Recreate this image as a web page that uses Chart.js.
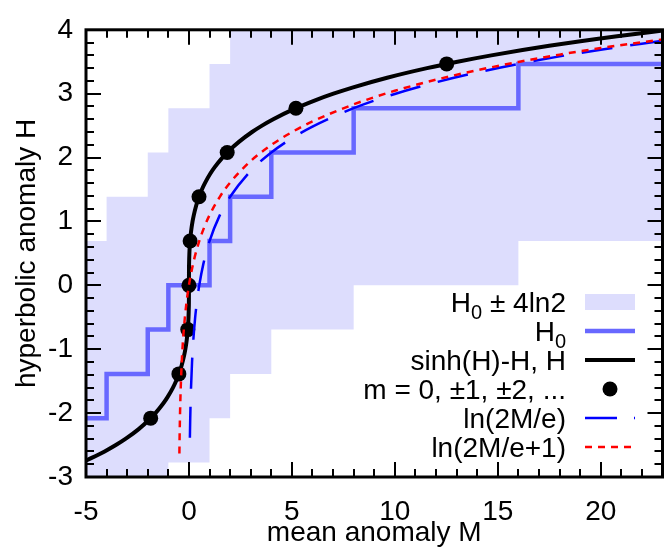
<!DOCTYPE html>
<html>
<head>
<meta charset="utf-8">
<script src="https://cdn.jsdelivr.net/npm/chart.js@4"></script>
<style>
  html, body { margin: 0; padding: 0; background: #fff; }
  canvas { display: block; }
</style>
</head>
<body>
<canvas id="anomaly_chart" width="670" height="551"></canvas>
<script>
"use strict";

// H0 is held constant on [stepM[i], stepM[i+1]]
const stepM = [-5, -4, -2, -1, 1, 2, 4, 8, 16, 23];
const stepH0 = [-2.079, -1.386, -0.693, 0, 0.693, 1.386, 2.079, 2.773, 3.466, 3.466];
const bandUpper = [0.693, 1.386, 2.079, 2.773, 3.466, 4.159, 4.852, 5.545, 6.238, 6.238];
const bandLower = [-4.852, -4.159, -3.466, -2.773, -2.079, -1.386, -0.693, 0, 0.693, 0.693];

// sinh(H)-H curve
const curveM = [-5.04, -4.095, -3.55, -3.066, -2.441, -1.922, -1.627, -1.251, -1.04, -0.776,
  -0.629, -0.449, -0.352, -0.236, -0.175, -0.106, -0.072, -0.037, -0.021, -0.0072, -0.0013,
  0, 0.0013, 0.0072, 0.021, 0.037, 0.072, 0.106, 0.175, 0.236, 0.352, 0.449, 0.629, 0.776,
  1.04, 1.251, 1.627, 1.922, 2.441, 3.066, 3.55, 4.095, 5.04, 6.16, 7.018, 7.976, 9.626,
  11.565, 13.043, 14.685, 17.499, 20.791, 23.29];
const curveH = [-2.75, -2.6, -2.5, -2.4, -2.25, -2.1, -2.0, -1.85, -1.75, -1.6,
  -1.5, -1.35, -1.25, -1.1, -1.0, -0.85, -0.75, -0.6, -0.5, -0.35, -0.2,
  0, 0.2, 0.35, 0.5, 0.6, 0.75, 0.85, 1.0, 1.1, 1.25, 1.35, 1.5, 1.6,
  1.75, 1.85, 2.0, 2.1, 2.25, 2.4, 2.5, 2.6, 2.75, 2.9, 3.0, 3.1, 3.25,
  3.4, 3.5, 3.6, 3.75, 3.9, 4.0];

// m = 0, ±1, ±2, ...
const markerM = [-1.858, -0.489, -0.057, 0, 0.057, 0.489, 1.858, 5.196, 12.518];
const markerH = [-2.079, -1.386, -0.693, 0, 0.693, 1.386, 2.079, 2.773, 3.466];

// ln(2M/e)
const blueM = [0.046, 0.06, 0.08, 0.1, 0.15, 0.2, 0.3, 0.4, 0.5, 0.7, 1, 1.5, 2, 3, 4, 5,
  6, 8, 10, 12, 14, 16, 18, 20, 23];
const blueH = [-2.386, -2.12, -1.833, -1.609, -1.204, -0.916, -0.511, -0.223, 0, 0.336,
  0.693, 1.099, 1.386, 1.792, 2.079, 2.303, 2.485, 2.773, 2.996, 3.178, 3.332, 3.466,
  3.584, 3.689, 3.829];

// ln(2M/e+1)
const redM = [-0.464, -0.45, -0.43, -0.4, -0.35, -0.3, -0.2, -0.1, 0, 0.1, 0.25, 0.5,
  0.75, 1, 1.5, 2, 3, 4, 5, 6, 8, 10, 12, 14, 16, 18, 20, 23];
const redH = [-2.631, -2.303, -1.966, -1.609, -1.204, -0.916, -0.511, -0.223, 0, 0.182,
  0.405, 0.693, 0.916, 1.099, 1.386, 1.609, 1.946, 2.197, 2.398, 2.565, 2.833, 3.045,
  3.219, 3.367, 3.497, 3.611, 3.714, 3.85];

const xTickLabels = [-5, 0, 5, 10, 15, 20];
const legendLabels = ["H_0 ± 4ln2", "H_0", "sinh(H)-H, H", "m = 0, ±1, ±2, ...",
  "ln(2M/e)", "ln(2M/e+1)"];

const FONT = "'Liberation Sans', Arial, sans-serif";
const BAND_COLOR = "rgb(221,221,253)";
const STEP_COLOR = "rgb(104,104,255)";

function toPoints(xs, ys) {
  return xs.map((x, i) => ({ x: x, y: ys[i] }));
}

const frameTicks = {
  id: "frameTicks",
  afterDatasetsDraw(chart) {
    const { ctx, chartArea: a, scales: { x, y } } = chart;
    ctx.save();
    ctx.strokeStyle = "#000";
    ctx.lineWidth = 2;
    ctx.beginPath();
    for (let v = -5; v <= 23; v++) {
      const px = Math.round(x.getPixelForValue(v));
      const len = v % 5 === 0 ? 15 : 8;
      ctx.moveTo(px, a.bottom);
      ctx.lineTo(px, a.bottom - len);
      ctx.moveTo(px, a.top);
      ctx.lineTo(px, a.top + len);
    }
    for (let k = -15; k <= 20; k++) {
      const py = Math.round(y.getPixelForValue(k / 5));
      const len = k % 5 === 0 ? 15 : 8;
      ctx.moveTo(a.left, py);
      ctx.lineTo(a.left + len, py);
      ctx.moveTo(a.right, py);
      ctx.lineTo(a.right - len, py);
    }
    ctx.stroke();
    ctx.lineWidth = 3;
    ctx.strokeRect(a.left, a.top, a.right - a.left, a.bottom - a.top);
    ctx.restore();
  }
};

function drawLabel(ctx, text, right, baseline) {
  const parts = text.split("_");
  const pieces = [{ t: parts[0], sub: false }];
  for (let i = 1; i < parts.length; i++) {
    pieces.push({ t: parts[i].charAt(0), sub: true });
    pieces.push({ t: parts[i].slice(1), sub: false });
  }
  const big = "28px " + FONT;
  const small = "20px " + FONT;
  let total = 0;
  pieces.forEach((p) => {
    ctx.font = p.sub ? small : big;
    p.w = ctx.measureText(p.t).width;
    total += p.w;
  });
  let x = right - total;
  pieces.forEach((p) => {
    ctx.font = p.sub ? small : big;
    ctx.fillText(p.t, x, p.sub ? baseline + 7 : baseline);
    x += p.w;
  });
}

const keyLegend = {
  id: "keyLegend",
  afterDraw(chart) {
    const ctx = chart.ctx;
    const textRight = 566;
    const x0 = 585;
    const x1 = 635;
    ctx.save();
    ctx.fillStyle = "#000";
    ctx.textAlign = "left";
    ctx.textBaseline = "alphabetic";
    legendLabels.forEach((label, i) => {
      const cy = 302 + i * 29;
      drawLabel(ctx, label, textRight, cy + 10);
      ctx.setLineDash([]);
      if (i === 0) {
        ctx.fillStyle = BAND_COLOR;
        ctx.fillRect(x0, cy - 8, x1 - x0, 16);
        ctx.fillStyle = "#000";
        return;
      }
      if (i === 3) {
        ctx.beginPath();
        ctx.arc((x0 + x1) / 2, cy, 7.5, 0, Math.PI * 2);
        ctx.fill();
        return;
      }
      const styles = {
        1: { c: STEP_COLOR, w: 4.5, d: [] },
        2: { c: "#000", w: 4, d: [] },
        4: { c: "#0000ff", w: 2.5, d: [32, 17] },
        5: { c: "#ff0000", w: 2.5, d: [7, 6] }
      };
      const s = styles[i];
      ctx.strokeStyle = s.c;
      ctx.lineWidth = s.w;
      ctx.setLineDash(s.d);
      ctx.beginPath();
      ctx.moveTo(x0, cy);
      ctx.lineTo(x1, cy);
      ctx.stroke();
    });
    ctx.restore();
  }
};

Chart.defaults.font.family = FONT;
Chart.defaults.font.size = 28;
Chart.defaults.color = "#000";

const anomalyChartContext = document.getElementById("anomaly_chart").getContext("2d");

const anomalyChart = new Chart(anomalyChartContext, {
  type: "line",
  data: {
    datasets: [
      {
        label: "ln(2M/e+1)",
        data: toPoints(redM, redH),
        borderColor: "#ff0000",
        borderWidth: 2.5,
        borderDash: [7, 6],
        pointRadius: 0,
        cubicInterpolationMode: "monotone",
        order: 0
      },
      {
        label: "ln(2M/e)",
        data: toPoints(blueM, blueH),
        borderColor: "#0000ff",
        borderWidth: 2.5,
        borderDash: [31, 18],
        pointRadius: 0,
        cubicInterpolationMode: "monotone",
        order: 1
      },
      {
        label: "m = 0, ±1, ±2, ...",
        data: toPoints(markerM, markerH),
        showLine: false,
        pointRadius: 7.5,
        pointBackgroundColor: "#000",
        pointBorderWidth: 0,
        order: 2
      },
      {
        label: "sinh(H)-H, H",
        data: toPoints(curveM, curveH),
        borderColor: "#000",
        borderWidth: 4,
        pointRadius: 0,
        cubicInterpolationMode: "monotone",
        order: 3
      },
      {
        label: "H0",
        data: toPoints(stepM, stepH0),
        borderColor: STEP_COLOR,
        borderWidth: 4.5,
        stepped: "before",
        pointRadius: 0,
        order: 4
      },
      {
        label: "H0 ± 4ln2",
        data: toPoints(stepM, bandUpper),
        borderColor: "rgba(0,0,0,0)",
        borderWidth: 0,
        stepped: "before",
        pointRadius: 0,
        backgroundColor: BAND_COLOR,
        fill: "+1",
        order: 5
      },
      {
        label: "band lower",
        data: toPoints(stepM, bandLower),
        borderColor: "rgba(0,0,0,0)",
        borderWidth: 0,
        stepped: "before",
        pointRadius: 0,
        order: 6
      }
    ]
  },
  options: {
    responsive: false,
    animation: false,
    devicePixelRatio: 1,
    events: [],
    layout: { padding: { left: 0, right: 5, top: 17, bottom: 0 } },
    plugins: {
      legend: { display: false },
      tooltip: { enabled: false }
    },
    scales: {
      x: {
        type: "linear",
        min: -5,
        max: 23,
        grid: { display: false, drawTicks: false },
        border: { display: false },
        afterBuildTicks: (scale) => {
          scale.ticks = xTickLabels.map((v) => ({ value: v }));
        },
        afterFit: (scale) => { scale.height = 74; },
        ticks: { padding: 18, maxRotation: 0 },
        title: {
          display: true,
          text: "mean anomaly M",
          padding: { top: 0, bottom: 1 }
        }
      },
      y: {
        type: "linear",
        min: -3,
        max: 4,
        grid: { display: false, drawTicks: false },
        border: { display: false },
        afterFit: (scale) => { scale.width = 86; },
        ticks: { stepSize: 1, padding: 13 },
        title: {
          display: true,
          text: "hyperbolic anomaly H",
          padding: { top: 10, bottom: 0 }
        }
      }
    }
  },
  plugins: [frameTicks, keyLegend]
});
</script>
</body>
</html>
